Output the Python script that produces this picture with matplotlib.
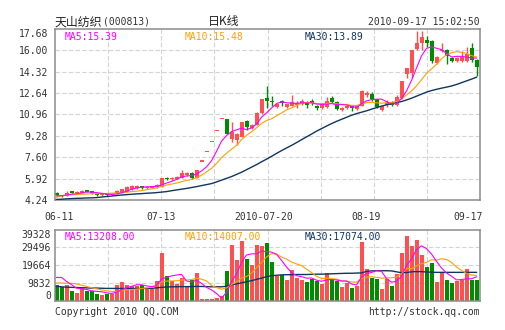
import numpy as np
import matplotlib
matplotlib.use('Agg')
import matplotlib.pyplot as plt

# 天山纺织(000813) 日K线, values
opens = [4.80, 4.62, 4.56, 4.86, 4.76, 4.82, 4.96, 4.92, 4.72, 4.60,
         4.70, 4.66, 4.76, 4.82, 4.90, 5.10, 5.22, 5.28, 5.16, 5.22,
         5.26, 5.30, 5.92, 5.90, 5.92, 5.98, 6.22, 6.38, 6.00, 7.26,
         7.99, 8.79, 9.67, 10.60, 10.60, 9.06, 8.98, 9.20, 10.45, 9.88,
         10.15, 11.05, 12.28, 12.05, 11.55, 12.00, 11.58, 11.65, 11.68, 11.80,
         11.92, 12.00, 11.65, 11.47, 11.55, 12.28, 11.98, 11.30, 11.48, 11.62,
         11.38, 11.65, 12.46, 12.58, 12.15, 11.30, 11.68, 11.98, 11.70, 12.28,
         14.18, 14.20, 16.13, 16.55, 16.85, 16.70, 14.98, 15.95, 16.05, 15.40,
         15.15, 15.15, 15.15, 16.15, 15.25]
highs = [4.84, 4.66, 4.95, 4.95, 4.92, 5.00, 5.02, 4.96, 4.76, 4.72,
         4.74, 4.80, 5.00, 5.14, 5.36, 5.42, 5.40, 5.36, 5.34, 5.34,
         5.48, 6.00, 6.02, 6.02, 6.12, 6.62, 6.46, 6.42, 6.62, 7.26,
         7.99, 8.79, 9.67, 10.60, 10.64, 10.36, 9.50, 10.40, 10.55, 10.20,
         11.12, 12.20, 13.20, 12.40, 11.90, 12.10, 11.80, 12.50, 12.00, 12.15,
         12.00, 12.15, 11.72, 11.85, 12.30, 12.45, 12.02, 11.55, 11.75, 11.68,
         11.68, 12.85, 12.83, 12.70, 12.20, 11.70, 12.10, 12.05, 12.50, 13.60,
         14.65, 16.05, 17.50, 17.55, 17.10, 16.80, 15.55, 16.55, 16.10, 15.50,
         15.45, 15.95, 16.30, 16.55, 15.30]
lows = [4.58, 4.48, 4.52, 4.76, 4.72, 4.78, 4.86, 4.74, 4.56, 4.56,
        4.58, 4.62, 4.72, 4.78, 4.86, 5.06, 5.12, 5.14, 5.12, 5.16,
        5.22, 5.26, 5.82, 5.84, 5.88, 5.94, 6.16, 5.92, 5.96, 7.26,
        7.99, 8.79, 9.67, 10.60, 9.40, 8.82, 8.56, 9.16, 9.78, 9.84,
        10.10, 11.00, 11.50, 11.60, 11.45, 11.60, 11.50, 11.60, 11.50, 11.70,
        11.50, 11.70, 11.30, 11.40, 11.50, 11.85, 11.35, 11.25, 11.38, 11.25,
        11.32, 11.60, 12.35, 12.05, 11.50, 11.25, 11.55, 11.62, 11.65, 12.20,
        13.85, 13.85, 16.05, 16.00, 16.30, 15.00, 14.95, 15.85, 14.95, 15.10,
        15.10, 15.10, 15.10, 15.10, 14.00]
closes = [4.62, 4.52, 4.82, 4.82, 4.88, 4.93, 4.90, 4.78, 4.60, 4.66,
          4.62, 4.74, 4.95, 5.08, 5.28, 5.34, 5.26, 5.22, 5.28, 5.28,
          5.44, 5.95, 5.88, 5.96, 6.06, 6.38, 6.38, 5.98, 6.60, 7.26,
          7.99, 8.79, 9.67, 10.60, 9.45, 9.60, 9.42, 10.38, 10.00, 10.12,
          11.10, 12.15, 12.05, 11.95, 11.78, 11.85, 11.75, 11.92, 11.90, 12.00,
          11.72, 11.85, 11.45, 11.78, 12.05, 11.98, 11.40, 11.50, 11.62, 11.45,
          11.62, 12.83, 12.62, 12.15, 11.58, 11.65, 11.85, 11.70, 12.30, 13.57,
          14.62, 16.00, 16.60, 17.02, 16.58, 15.15, 15.48, 16.05, 15.55, 15.15,
          15.40, 15.50, 15.75, 15.25, 14.70]

ma5 = [4.57, 4.58, 4.63, 4.70, 4.73, 4.79, 4.87, 4.86, 4.82, 4.77,
       4.71, 4.68, 4.71, 4.81, 4.93, 5.08, 5.18, 5.24, 5.28, 5.28,
       5.30, 5.43, 5.57, 5.70, 5.86, 6.05, 6.13, 6.15, 6.28, 6.52,
       6.84, 7.32, 8.06, 8.86, 9.30, 9.62, 9.75, 9.89, 9.77, 9.90,
       10.20, 10.75, 11.08, 11.47, 11.81, 11.96, 11.88, 11.85, 11.84, 11.88,
       11.86, 11.88, 11.78, 11.76, 11.77, 11.82, 11.73, 11.74, 11.71, 11.59,
       11.52, 11.80, 12.03, 12.13, 12.16, 12.17, 11.97, 11.79, 11.82, 12.21,
       12.81, 13.64, 14.62, 15.56, 16.16, 16.27, 16.17, 16.06, 15.76, 15.48,
       15.53, 15.53, 15.47, 15.41, 15.39]
ma10 = [4.45, 4.56, 4.62, 4.65, 4.67, 4.69, 4.71, 4.73, 4.74, 4.75,
        4.75, 4.78, 4.78, 4.82, 4.85, 4.90, 4.93, 4.98, 5.05, 5.11,
        5.19, 5.31, 5.41, 5.49, 5.57, 5.68, 5.78, 5.86, 5.99, 6.19,
        6.45, 6.73, 7.11, 7.57, 7.91, 8.23, 8.54, 8.98, 9.32, 9.60,
        9.91, 10.25, 10.49, 10.62, 10.86, 11.08, 11.32, 11.47, 11.66, 11.85,
        11.91, 11.88, 11.82, 11.80, 11.83, 11.84, 11.81, 11.76, 11.74, 11.68,
        11.67, 11.77, 11.89, 11.92, 11.88, 11.85, 11.89, 11.91, 11.98, 12.19,
        12.49, 12.81, 13.21, 13.69, 14.19, 14.54, 14.91, 15.34, 15.66, 15.82,
        15.90, 15.85, 15.77, 15.59, 15.48]
ma30 = [4.28, 4.30, 4.33, 4.35, 4.37, 4.38, 4.40, 4.41, 4.43, 4.47,
        4.51, 4.55, 4.59, 4.63, 4.66, 4.69, 4.72, 4.74, 4.77, 4.79,
        4.82, 4.86, 4.90, 4.97, 5.03, 5.09, 5.15, 5.22, 5.29, 5.37,
        5.45, 5.53, 5.66, 5.80, 5.94, 6.08, 6.25, 6.42, 6.62, 6.82,
        7.02, 7.24, 7.45, 7.67, 7.90, 8.12, 8.33, 8.53, 8.75, 8.98,
        9.20, 9.42, 9.65, 9.85, 10.05, 10.24, 10.42, 10.58, 10.74, 10.90,
        11.03, 11.14, 11.25, 11.38, 11.50, 11.62, 11.72, 11.81, 11.89, 11.98,
        12.10, 12.24, 12.40, 12.56, 12.72, 12.84, 12.94, 13.03, 13.11, 13.20,
        13.32, 13.46, 13.60, 13.74, 13.89]

volumes = [8900, 7400, 8900, 5500, 4200, 7000, 5500, 5200, 3900, 3300,
           3900, 3700, 8900, 10200, 8900, 8100, 8100, 8900, 7000, 7000,
           10700, 26400, 13500, 11100, 9400, 12600, 7900, 11300, 15300, 1100,
           1100, 1100, 1500, 2400, 16600, 31000, 22500, 33200, 23100, 19900,
           31000, 30100, 31900, 21600, 13800, 14400, 11600, 16800, 12600, 11300,
           10200, 12200, 10700, 9400, 15300, 11300, 10700, 7600, 9800, 7000,
           8300, 32500, 17700, 12600, 12200, 6500, 12200, 7900, 14800, 26400,
           36000, 30500, 33800, 25500, 18500, 21000, 10300, 15300, 11400, 9800,
           10700, 11300, 17400, 11600, 11600]
vol_ma5 = [12900, 12900, 10700, 8900, 6980, 6610, 6240, 5500, 5170, 4980,
           4360, 3990, 4730, 5980, 7090, 7940, 8820, 8820, 8200, 7830,
           8340, 12000, 12920, 13730, 14210, 14580, 10890, 10450, 11300, 9640,
           7350, 5980, 4030, 1440, 4540, 10520, 14810, 21160, 25290, 25960,
           25960, 27470, 27210, 26920, 25700, 22370, 18680, 15650, 13850, 13330,
           12480, 12590, 11370, 10740, 11560, 11780, 11480, 10860, 10930, 9270,
           8680, 13030, 15060, 15620, 16650, 16280, 12220, 10260, 10710, 13550,
           19460, 23110, 28280, 30420, 28840, 25840, 21820, 18130, 15320, 13590,
           11520, 11700, 12110, 12150, 13208]
vol_ma10 = [9800, 9800, 9700, 9600, 9300, 8600, 7900, 7200, 6600, 5980,
            5480, 5110, 5110, 5580, 6040, 6150, 6410, 6780, 7090, 7460,
            8140, 10410, 10870, 10970, 11020, 11460, 11450, 11690, 12520, 11930,
            10970, 8440, 7240, 6370, 7090, 8940, 10390, 12590, 13370, 15250,
            18240, 21140, 24180, 26100, 25830, 24170, 23080, 21430, 20380, 19510,
            17430, 15640, 13510, 12300, 12440, 12130, 12040, 11110, 10840, 10410,
            10230, 12260, 12960, 13270, 12960, 12480, 12630, 12660, 13160, 15100,
            17870, 17670, 19270, 20570, 21190, 22650, 22470, 23210, 22870, 21210,
            18680, 16760, 15120, 14200, 14007]
vol_ma30 = [7900, 7700, 7500, 7400, 7300, 7200, 7100, 7000, 7000, 6900,
            6800, 6800, 6800, 6800, 6800, 6800, 6800, 6800, 6800, 6900,
            7100, 7400, 7600, 7700, 7700, 7800, 7800, 7800, 7900, 7900,
            7800, 7700, 7700, 7700, 8000, 8800, 9300, 9900, 10500, 11100,
            11800, 12500, 13300, 13800, 14100, 14300, 14400, 14400, 14500, 14500,
            14500, 14600, 14700, 14700, 14800, 14900, 15000, 15100, 15200, 15200,
            15300, 15400, 16200, 16500, 16600, 16600, 16600, 16500, 16000, 15500,
            15600, 16000, 16100, 16100, 15900, 15800, 15700, 15700, 15700, 15700,
            15700, 15700, 15700, 15700, 15700]

price_ticks = [4.24, 5.92, 7.60, 9.28, 10.96, 12.64, 14.32, 16.00, 17.68]
vol_ticks = [0, 9832, 19664, 29496, 39328]
date_labels = ['06-11', '07-13', '2010-07-20', '08-19', '09-17']
date_pos = [0.6, 21.0, 41.5, 61.9, 82.4]

RED = '#ff4f4f'
GREEN = '#008c00'
C5 = '#ff00ff'
C10 = '#ffa000'
C30 = '#0f3561'
GRID = '#d4d4d4'
TXT = '#333333'
MONO = 'DejaVu Sans Mono'
CJK = 'Noto Sans CJK SC'

W, H = 505, 330


def fig_xy(px, py):
    return px / W, 1 - py / H


opens = np.array(opens)
closes = np.array(closes)
x = np.arange(len(closes))
up = closes >= opens
colors = np.where(up, RED, GREEN)
xmin, xmax = -0.3, 84.7

fig = plt.figure(figsize=(W / 100, H / 100), dpi=100)
ax = fig.add_axes([55 / W, 1 - 200 / H, 425 / W, 171 / H])
axv = fig.add_axes([55 / W, 1 - 300.7 / H, 425 / W, 71 / H])

for a in (ax, axv):
    a.set_xlim(xmin, xmax)
    for s in a.spines.values():
        s.set_color('#8c8c8c')
        s.set_linewidth(1.1)
    a.tick_params(length=0, labelsize=7, colors=TXT)
    for k in range(1, 8):
        a.axvline(xmin + k * (xmax - xmin) / 8, color=GRID, lw=0.8,
                  ls=(0, (4, 2)), zorder=0)

# price panel
ax.set_ylim(price_ticks[0], price_ticks[-1])
for t in price_ticks[1:-1]:
    ax.axhline(t, color=GRID, lw=0.8, ls=(0, (4, 2)), zorder=0)
ax.vlines(x, lows, highs, colors=colors, linewidth=1, zorder=2)
body_low = np.minimum(opens, closes)
body_h = np.maximum(np.abs(closes - opens), 0.09)
ax.bar(x, body_h, bottom=body_low, width=0.8, color=colors, linewidth=0, zorder=2)
ax.plot(x, ma30, color=C30, lw=1.0, zorder=3)
ax.plot(x, ma10, color=C10, lw=0.8, zorder=3)
ax.plot(x, ma5, color=C5, lw=0.8, zorder=3)
ax.set_yticks(price_ticks)
ax.set_yticklabels(['%.2f' % t for t in price_ticks], family=MONO)
ax.get_yticklabels()[-1].set_va('top')
ax.tick_params(axis='y', pad=5)
ax.set_xticks(date_pos)
ax.set_xticklabels(date_labels, family=MONO)
ax.tick_params(axis='x', pad=9)

# volume panel
axv.set_ylim(vol_ticks[0], vol_ticks[-1])
for t in vol_ticks[1:-1]:
    axv.axhline(t, color=GRID, lw=0.8, ls=(0, (4, 2)), zorder=0)
axv.bar(x, volumes, width=0.8, color=colors, linewidth=0, zorder=2)
axv.plot(x, vol_ma30, color=C30, lw=1.0, zorder=3)
axv.plot(x, vol_ma10, color=C10, lw=0.8, zorder=3)
axv.plot(x, vol_ma5, color=C5, lw=0.8, zorder=3)
axv.set_yticks(vol_ticks)
axv.set_yticklabels([str(t) for t in vol_ticks], family=MONO)
axv.get_yticklabels()[0].set_va('bottom')
axv.get_yticklabels()[-1].set_va('top')
axv.tick_params(axis='y', pad=3)
axv.set_xticks([])

# legends inside panels
ax.text(*fig_xy(65, 37), 'MA5:%.2f' % ma5[-1], transform=fig.transFigure,
        color=C5, family=MONO, fontsize=7, va='center')
ax.text(*fig_xy(185, 37), 'MA10:%.2f' % ma10[-1], transform=fig.transFigure,
        color=C10, family=MONO, fontsize=7, va='center')
ax.text(*fig_xy(305, 37), 'MA30:%.2f' % ma30[-1], transform=fig.transFigure,
        color=C30, family=MONO, fontsize=7, va='center')
axv.text(*fig_xy(65, 237), 'MA5:%.2f' % vol_ma5[-1], transform=fig.transFigure,
         color=C5, family=MONO, fontsize=7, va='center')
axv.text(*fig_xy(185, 237), 'MA10:%.2f' % vol_ma10[-1], transform=fig.transFigure,
         color=C10, family=MONO, fontsize=7, va='center')
axv.text(*fig_xy(305, 237), 'MA30:%.2f' % 17074, transform=fig.transFigure,
         color=C30, family=MONO, fontsize=7, va='center')

# header and footer
fig.text(*fig_xy(55, 22), '天山纺织', family=CJK, fontsize=8.6, color='#222222', va='center')
fig.text(*fig_xy(103, 22), '(000813)', family=MONO, fontsize=7, color=TXT, va='center')
fig.text(*fig_xy(208, 22), '日K线', family=CJK, fontsize=8.6, color='#222222', va='center')
fig.text(*fig_xy(480, 22), '2010-09-17 15:02:50', family=MONO, fontsize=7,
         color=TXT, va='center', ha='right')
fig.text(*fig_xy(55, 312), 'Copyright 2010 QQ.COM', family=MONO, fontsize=7,
         color=TXT, va='center')
fig.text(*fig_xy(480, 312), 'http://stock.qq.com', family=MONO, fontsize=7,
         color=TXT, va='center', ha='right')

fig.savefig('out.png', dpi=100, facecolor='white')
